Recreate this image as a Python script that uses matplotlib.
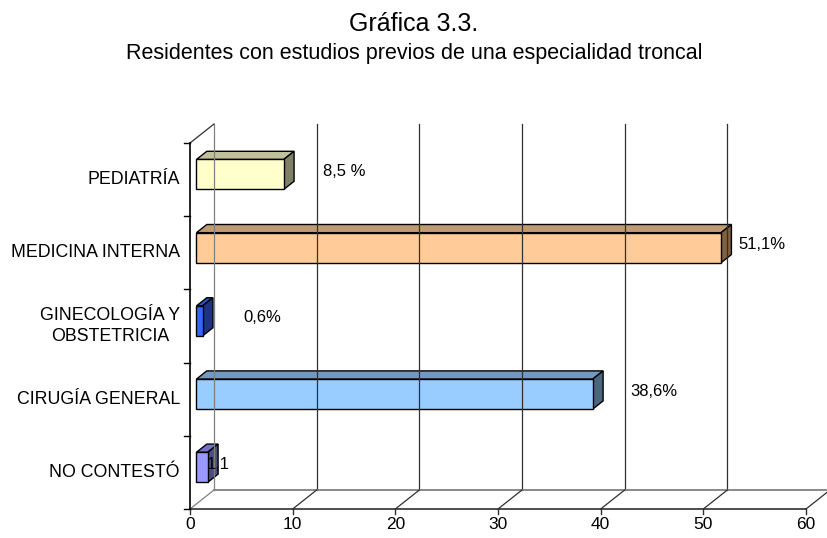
import matplotlib
matplotlib.use("Agg")
from matplotlib import pyplot as plt
from matplotlib.patches import Polygon
from matplotlib.lines import Line2D
from matplotlib.transforms import IdentityTransform
import numpy as np

plt.rcParams['font.family'] = ['Liberation Sans', 'DejaVu Sans']

# datos (de abajo hacia arriba)
categorias = ['NO CONTESTÓ', 'CIRUGÍA GENERAL', 'GINECOLOGÍA Y\nOBSTETRICIA',
              'MEDICINA INTERNA', 'PEDIATRÍA']
valores = [1.1, 38.6, 0.6, 51.1, 8.5]
etiquetas = ['1,1', '38,6%', '0,6%', '51,1%', '8,5 %']
x_ticks = [0, 10, 20, 30, 40, 50, 60]

# colores: frente, tapa, lado
c_frente = ['#9999FF', '#99CCFF', '#3366FF', '#FFCC99', '#FFFFCC']
c_tapa = ['#7373C0', '#7399C0', '#2A4FC0', '#C09A73', '#C0C09A']
c_lado = ['#4D4D80', '#4D6680', '#1F3380', '#806040', '#808066']
label_dx = [-0.1, 3.65, 4.0, 1.7, 3.8]  # posicion del texto (a ojo)

W, H = 828, 538
fig = plt.figure(figsize=(W / 100, H / 100), dpi=100)
ax = fig.add_axes([190 / W, (H - 509) / H, 616 / W, 366 / H])
ax.set_xlim(0, 60)
ax.set_ylim(-0.5, 4.5)
ax.axis('off')

DX, DY = 24, 19  # profundidad del "3D" en pixeles
ident = IdentityTransform()


def px(x, y, d=0.0):
    p = ax.transData.transform((x, y))
    return (p[0] + d * DX, p[1] + d * DY)


def linea(p0, p1, color, lw=1.0):
    fig.add_artist(Line2D([p0[0], p1[0]], [p0[1], p1[1]], transform=ident,
                          color=color, lw=lw))


ymin, ymax = -0.5, 4.5
gris = '#808080'
oscuro = '#303030'

# pared del fondo
for v in x_ticks:
    c = gris if v == 0 else oscuro
    linea(px(v, ymin, 1), px(v, ymax, 1), c, 0.9)
linea(px(0, ymin, 1), px(60, ymin, 1), gris, 1.3)

# suelo
for v in x_ticks:
    c = gris if v == 0 else oscuro
    linea(px(v, ymin, 0), px(v, ymin, 1), c, 0.9)
linea(px(0, ymin), px(60, ymin), oscuro, 1.2)
for v in x_ticks:
    p = px(v, ymin)
    linea(p, (p[0], p[1] - 5), oscuro, 1.0)
    fig.text(p[0] / W, (p[1] - 8) / H, str(v), ha='center', va='top', fontsize=12.5)

# pared izquierda
linea(px(0, ymax), px(0, ymax, 1), oscuro, 0.9)
linea(px(0, ymin), px(0, ymax), 'black', 1.2)
for k in range(6):
    p = px(0, ymin + k)
    linea(p, (p[0] - 6, p[1]), 'black', 1.0)

# barras
f1, f2 = 0.27, 0.70
h = 0.41
for i, v in enumerate(valores):
    y0, y1 = i - h / 2, i + h / 2
    frente = [px(0, y0, f1), px(v, y0, f1), px(v, y1, f1), px(0, y1, f1)]
    tapa = [px(0, y1, f1), px(v, y1, f1), px(v, y1, f2), px(0, y1, f2)]
    lado = [px(v, y0, f1), px(v, y0, f2), px(v, y1, f2), px(v, y1, f1)]
    for pts, col in ((tapa, c_tapa[i]), (lado, c_lado[i]), (frente, c_frente[i])):
        fig.add_artist(Polygon(pts, closed=True, transform=ident,
                               facecolor=col, edgecolor='black', lw=1.0))
    p = px(v + label_dx[i], i, f1)
    fig.text(p[0] / W, (p[1] + 3) / H, etiquetas[i], ha='left', va='center',
             fontsize=12)

# nombres de categoria
for i, cat in enumerate(categorias):
    p = px(0, i)
    fig.text((p[0] - 10) / W, p[1] / H, cat, ha='right', va='center',
             multialignment='center', fontsize=12.8, linespacing=1.25)

fig.text(0.5, (H - 24) / H, 'Gráfica 3.3.', ha='center', va='center', fontsize=18)
fig.text(0.5, (H - 53) / H, 'Residentes con estudios previos de una especialidad troncal',
         ha='center', va='center', fontsize=15.5)

fig.savefig('out.png', dpi=100, facecolor='white')
